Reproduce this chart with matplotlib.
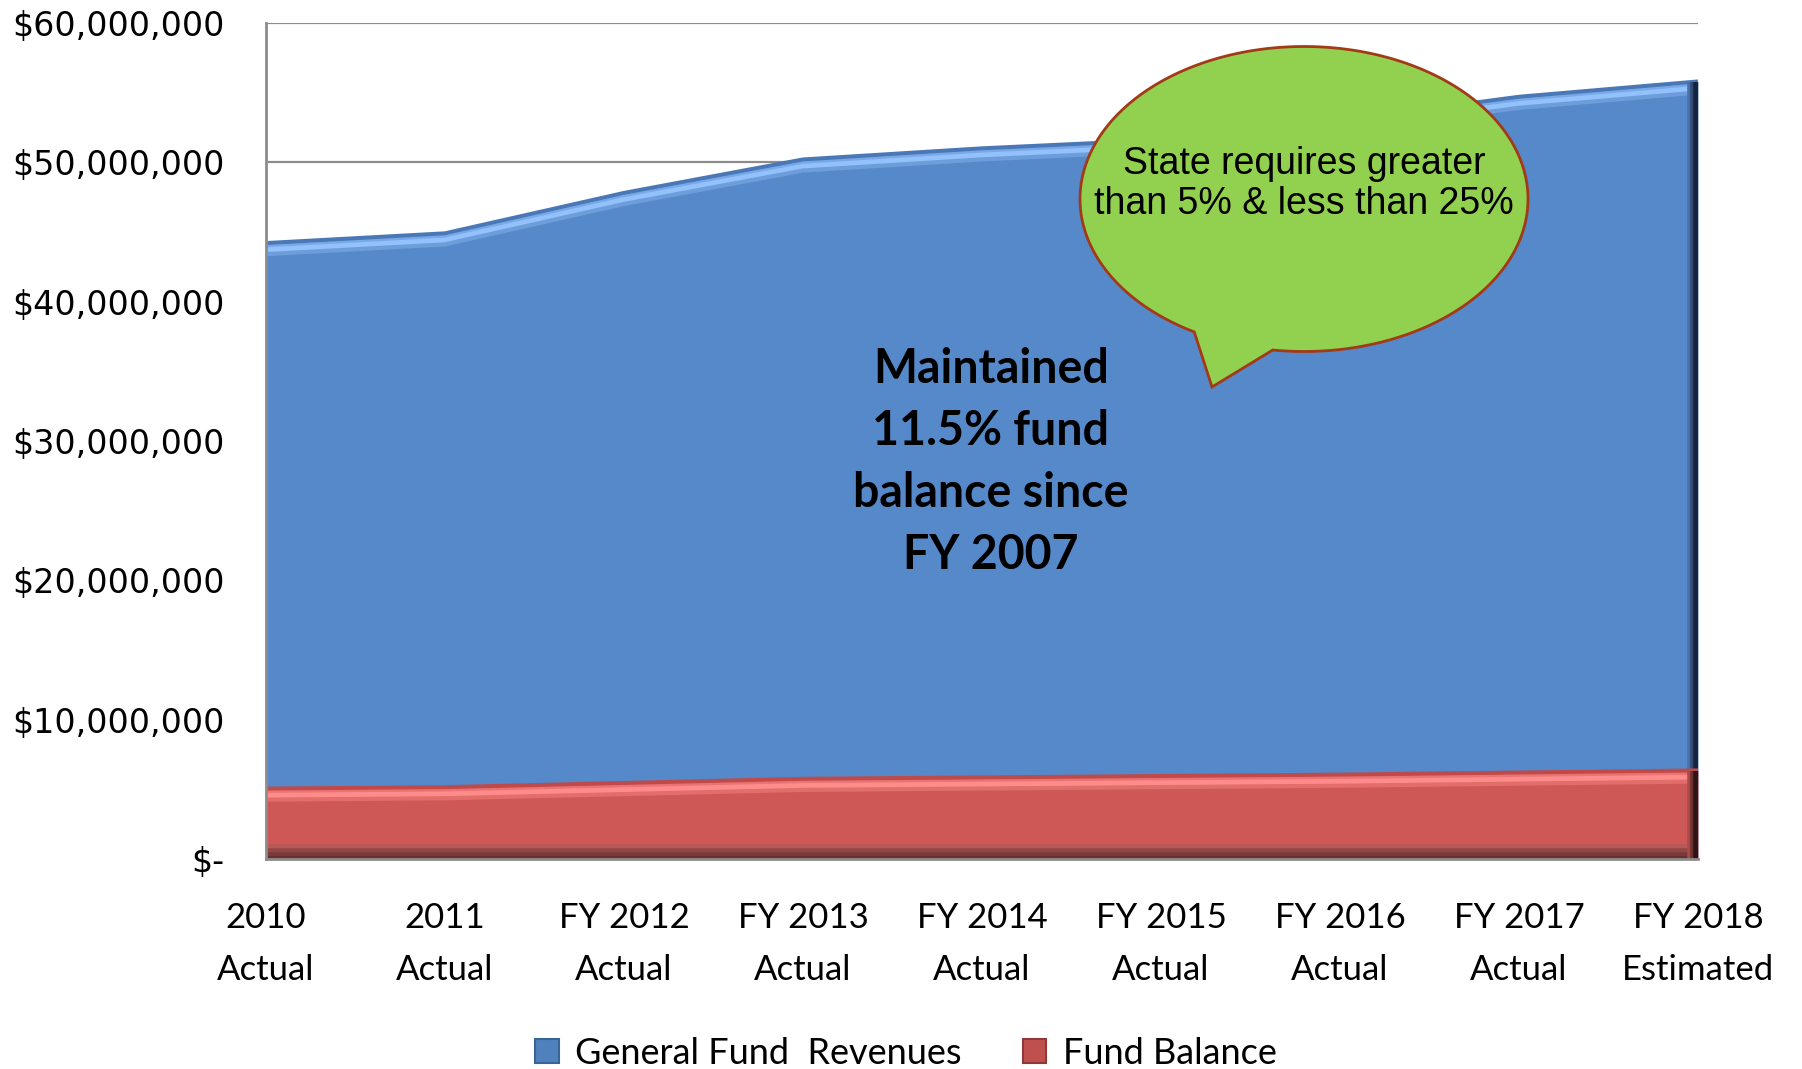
import numpy as np
import matplotlib.pyplot as plt
from matplotlib.patches import Patch, Polygon
from matplotlib.ticker import FuncFormatter
from matplotlib.transforms import offset_copy

plt.rcParams['font.family'] = ['Lato', 'DejaVu Sans']

years = ['2010\nActual', '2011\nActual', 'FY 2012\nActual', 'FY 2013\nActual',
         'FY 2014\nActual', 'FY 2015\nActual', 'FY 2016\nActual',
         'FY 2017\nActual', 'FY 2018\nEstimated']
# dollars, millions
revenues = [44.2, 44.9, 47.8, 50.2, 51.0, 51.6, 53.0, 54.7, 55.8]
fund_balance = [5.05, 5.15, 5.45, 5.75, 5.85, 5.95, 6.05, 6.2, 6.35]

x = np.arange(len(years))
rev = np.array(revenues) * 1e6
fb = np.array(fund_balance) * 1e6

W, H = 1802, 1069
fig = plt.figure(figsize=(W / 100, H / 100), dpi=100)
ax = fig.add_axes([266 / W, 1 - 859 / H, (1698 - 266) / W, (859 - 23) / H])

blue = '#5689c9'
red = '#cd5856'

ax.fill_between(x, 0, rev, color=blue, lw=0, zorder=2)
ax.fill_between(x, 0, fb, color=red, lw=0, zorder=3)


def shade(xs, ys, layers, z, axis='y'):
    # stacked offset strokes to fake the bevelled edge
    for d, c, lw in layers:
        kw = {'y': d} if axis == 'y' else {'x': d}
        tr = offset_copy(ax.transData, fig=fig, units='dots', **kw)
        ax.plot(xs, ys, color=c, lw=lw, transform=tr, zorder=z,
                solid_capstyle='butt')


shade(x, rev, [(0, '#4a78b6', 3), (-4, '#78a8e8', 3), (-7, '#92c1fb', 4),
               (-11, '#6d9edb', 3)], 2.5)
shade(x, fb, [(0, '#c04a49', 3), (-4, '#e87473', 3), (-7, '#ff8c8b', 4),
              (-11, '#e26e6c', 3)], 3.5)
zero = np.zeros_like(x, dtype=float)
shade(x, zero, [(12, '#b45a58', 4), (8, '#934646', 4), (4, '#7a3a3a', 4),
                (1, '#6a3030', 3)], 3.5)
shade([8, 8], [fb[-1], rev[-1]], [(-8, '#4a70a6', 4), (-5, '#2f4c78', 4),
                                  (-2, '#16233a', 4)], 2.6, 'x')
shade([8, 8], [0, fb[-1]], [(-8, '#a84a48', 4), (-5, '#6e3030', 4),
                            (-2, '#2e1515', 4)], 3.6, 'x')

ax.set_xlim(0, 8)
ax.set_ylim(0, 60e6)
ax.set_yticks(np.arange(0, 60e6 + 1, 10e6))
ax.yaxis.set_major_formatter(FuncFormatter(
    lambda v, p: '$-' if v == 0 else f'${v:,.0f}'))
ax.set_xticks(x, years, linespacing=1.75)
ax.tick_params(axis='x', length=0, pad=31, labelsize=25)
ax.tick_params(axis='y', length=0, pad=30)
for lab in ax.get_yticklabels():
    lab.set_family('DejaVu Sans')
    lab.set_fontsize(24)

ax.set_axisbelow(True)
ax.yaxis.grid(True, color='#8c8c8c', lw=1.6)
for s in ['top', 'right']:
    ax.spines[s].set_visible(False)
for s in ['left', 'bottom']:
    ax.spines[s].set_color('#8c8c8c')
    ax.spines[s].set_linewidth(2)
    ax.spines[s].set_zorder(4)

ax.text(4.05, 28.5e6, 'Maintained\n11.5% fund\nbalance since\nFY 2007',
        ha='center', va='center', fontsize=33.5, fontweight='bold',
        linespacing=1.5, zorder=5)

# speech bubble, laid out in pixels
cx, cy, a, b = 1304, 199, 224, 152.5
p1, p2, tip = (1195, 331), (1273, 349), (1212, 387)
t1 = np.arctan2((p1[1] - cy) / b, (p1[0] - cx) / a)
t2 = np.arctan2((p2[1] - cy) / b, (p2[0] - cx) / a)
if t2 < t1:
    t2 += 2 * np.pi
t = np.linspace(t1, t2, 300)
px = np.concatenate([cx + a * np.cos(t), [tip[0]]])
py = np.concatenate([cy + b * np.sin(t), [tip[1]]])
pts = np.column_stack([px / W, 1 - py / H])
fig.add_artist(Polygon(pts, closed=True, facecolor='#92d050',
                       edgecolor='#a33a17', lw=2, transform=fig.transFigure,
                       zorder=6))
fig.text(cx / W, 1 - 184 / H, 'State requires greater\nthan 5% & less than 25%',
         ha='center', va='center', fontsize=27, family='Liberation Sans',
         linespacing=1.12, zorder=7)

handles = [Patch(facecolor='#4f81bd', edgecolor='#3a6396', lw=1.5,
                 label='General Fund  Revenues'),
           Patch(facecolor='#c0504d', edgecolor='#8e3a38', lw=1.5,
                 label='Fund Balance')]
fig.legend(handles=handles, loc='center', bbox_to_anchor=(906 / W, 1 - 1053 / H),
           ncol=2, frameon=False, fontsize=26, handlelength=0.65,
           handleheight=0.65, handletextpad=0.45, columnspacing=1.7)

fig.savefig('out.png', dpi=100)
